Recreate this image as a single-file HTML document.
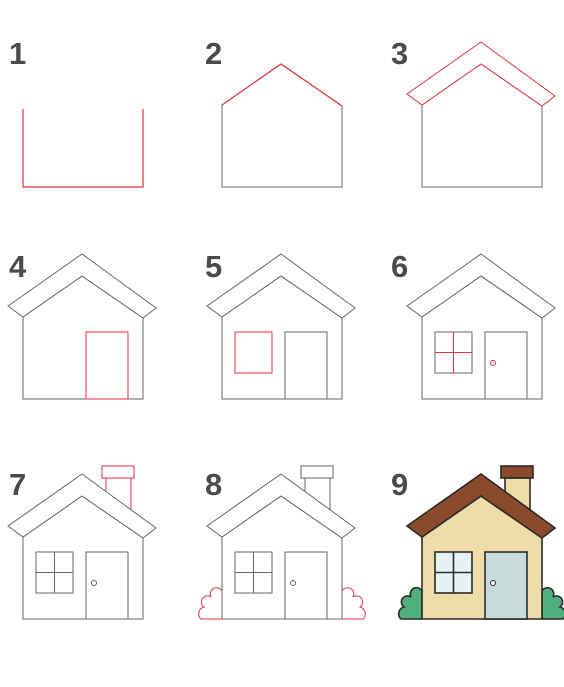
<!DOCTYPE html>
<html><head><meta charset="utf-8"><style>
html,body{margin:0;padding:0;background:#fff;width:564px;height:687px;overflow:hidden}
svg{display:block}
text{font-family:"Liberation Sans",sans-serif;font-weight:bold;fill:#4a4a4a}
</style></head><body>
<svg id="s" width="564" height="687" viewBox="0 0 564 687"></svg>
<script>
const steps=[1,2,3,4,5,6,7,8,9];
const colOffsets=[-399,-200,0];
const rowOffsets=[-432,-220,0];
const NS="http://www.w3.org/2000/svg";
const svg=document.getElementById('s');
const GRAY="#666",RED="#e0353f",DARK="#2a2a2a";
function el(parent,tag,attrs){const e=document.createElementNS(NS,tag);for(const k in attrs)e.setAttribute(k,attrs[k]);parent.appendChild(e);return e;}
function pts(a,dx,dy){return a.map(p=>(p[0]+dx)+","+(p[1]+dy)).join(" ");}
steps.forEach((n,i)=>{
  const dx=colOffsets[i%3],dy=rowOffsets[Math.floor(i/3)];
  const g=el(svg,'g',{});
  
  
  const t=el(g,'text',{x:(i%3===0?9:i%3===1?205:391),'font-size':31});
  t.setAttribute('y',64+ (Math.floor(i/3)===0?0:Math.floor(i/3)===1?213:431));
  t.textContent=n;
  
  
  const color=n===9;
  const sw=color?1.6:1;
  const c=(k)=>color?DARK:(k===n?RED:GRAY);
  if(n>=8){
    const X=(x)=>x+dx,Y=(y)=>y+dy;
    const dl="M"+X(422)+","+Y(591)+" A6,6 0 0 0 "+X(411)+","+Y(597)+" A6,6 0 0 0 "+X(404)+","+Y(607)+" A7,7 0 0 0 "+X(401)+","+Y(619)+" H"+X(422)+" Z";
    const dr="M"+X(542)+","+Y(591)+" A6,6 0 0 1 "+X(553)+","+Y(597)+" A6,6 0 0 1 "+X(560)+","+Y(607)+" A7,7 0 0 1 "+X(563)+","+Y(619)+" H"+X(542)+" Z";
    [dl,dr].forEach(d=>{
      const p=el(g,'path',{d:d,fill:color?"#4fb07e":"none",stroke:c(8),'stroke-width':sw});
      
      
    });
  }
  if(n>=7){
    const st=el(g,'polygon',{points:pts([[505,478],[530,478],[530,510],[505,492]],dx,dy),fill:color?"#f0dca8":"none",stroke:c(7),'stroke-width':sw});
    
    
    const cp=el(g,'rect',{x:501+dx,y:466+dy,width:32,height:12,fill:color?"#8b4a2b":"#fff",stroke:c(7),'stroke-width':sw});
    
    
  }
  if(n===1){
    const w=el(g,'polyline',{points:pts([[422,541],[422,619],[542,619],[542,541]],dx,dy),fill:"none",stroke:RED,'stroke-width':1.2});
    
    
  } else {
    const w=el(g,'polygon',{points:pts([[422,537],[481,496],[542,538],[542,619],[422,619]],dx,dy),fill:color?"#f0dca8":"none",stroke:color?DARK:GRAY,'stroke-width':sw});
    
    
    if(n===2){
      const r=el(g,'polyline',{points:pts([[422,537],[481,496],[542,538]],dx,dy),fill:"none",stroke:RED,'stroke-width':1.2});
      
      
    }
  }
  if(n>=3){
    const r=el(g,'polygon',{points:pts([[407,526],[481,474],[555,528],[542,538],[481,496],[422,537]],dx,dy),fill:color?"#8b4a2b":"#fff",stroke:c(3),'stroke-width':sw});
    
    
  }
  if(n>=4){
    const d=el(g,'rect',{x:485+dx,y:552+dy,width:42,height:67,fill:color?"#c9dcdc":"none",stroke:c(4),'stroke-width':sw});
    
    
  }
  if(n>=5){
    const w=el(g,'rect',{x:435+dx,y:552+dy,width:37,height:41,fill:color?"#e6f2f4":"none",stroke:c(5),'stroke-width':sw});
    
    
  }
  if(n>=6){
    const cr=el(g,'path',{d:"M"+(453.5+dx)+","+(552+dy)+"V"+(593+dy)+"M"+(435+dx)+","+(572.5+dy)+"H"+(472+dx),fill:"none",stroke:c(6),'stroke-width':sw});
    
    
    const k=el(g,'circle',{cx:493+dx,cy:583+dy,r:2.5,fill:"#fff",stroke:c(6),'stroke-width':1});
    
    
  }
});
</script>
</body></html>
